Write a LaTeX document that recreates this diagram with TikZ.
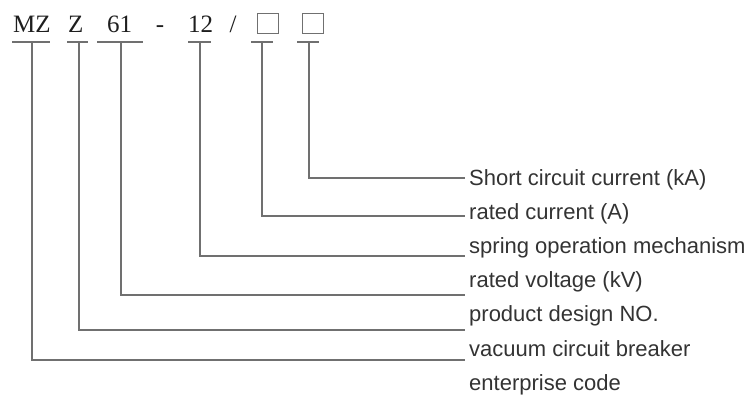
\documentclass[tikz,border=0pt]{standalone}
\usepackage{fontspec}
\setmainfont{Liberation Serif}
\newfontfamily\labfont{Liberation Sans}
\definecolor{txt}{RGB}{51,51,51}
\definecolor{codetxt}{RGB}{30,30,30}
\definecolor{ln}{RGB}{112,112,112}
\begin{document}
\begin{tikzpicture}[x=1pt,y=-1pt,
  code/.style={anchor=base west,inner sep=0pt,text=codetxt,font=\fontsize{25}{28}\selectfont},
  sym/.style={code,anchor=base},
  phbox/.style={draw=ln,line width=1pt,minimum width=21pt,minimum height=20pt,inner sep=0pt},
  lab/.style={anchor=base west,inner sep=0pt,text=txt,font=\labfont\fontsize{22}{26}\selectfont},
  bar/.style={draw=ln,line width=1.4pt},
  conn/.style={draw=ln,line width=1.4pt}]
\useasboundingbox (0,0) rectangle (755,397);
% code characters
\node[code] (mz) at (13,32) {MZ};
\node[code] (z) at (68,32) {Z};
\node[code] (n61) at (107,32) {61};
\node[sym] (dash) at (160,32) {-};
\node[code] (n12) at (188,32) {12};
\node[sym] (slash) at (233,32) {/};
\node[phbox] (b1) at (267.5,23) {};
\node[phbox] (b2) at (312.5,23) {};
% underline bars
\draw[bar] (12,42) -- (50,42);
\draw[bar] (67,42) -- (88,42);
\draw[bar] (97,42) -- (143,42);
\draw[bar] (188,42) -- (211,42);
\draw[bar] (251,42) -- (273,42);
\draw[bar] (297,42) -- (319,42);
% stem tops
\coordinate (t1) at (32,42);
\coordinate (t2) at (79,42);
\coordinate (t3) at (121,42);
\coordinate (t4) at (200,42);
\coordinate (t5) at (262,42);
\coordinate (t6) at (309,42);
% line ends
\coordinate (e6) at (465,178);
\coordinate (e5) at (465,216);
\coordinate (e4) at (465,256);
\coordinate (e3) at (465,295);
\coordinate (e2) at (465,330);
\coordinate (e1) at (465,360);
% labels
\node[lab] (l1) at (469,185) {Short circuit current (kA)};
\node[lab] (l2) at (469,219.2) {rated current (A)};
\node[lab] (l3) at (469,253.4) {spring operation mechanism};
\node[lab] (l4) at (469,287.6) {rated voltage (kV)};
\node[lab] (l5) at (469,321.8) {product design NO.};
\node[lab] (l6) at (469,356) {vacuum circuit breaker};
\node[lab] (l7) at (469,390.2) {enterprise code};
% connectors
\draw[conn] (t6) |- (e6);
\draw[conn] (t5) |- (e5);
\draw[conn] (t4) |- (e4);
\draw[conn] (t3) |- (e3);
\draw[conn] (t2) |- (e2);
\draw[conn] (t1) |- (e1);
\end{tikzpicture}
\end{document}
